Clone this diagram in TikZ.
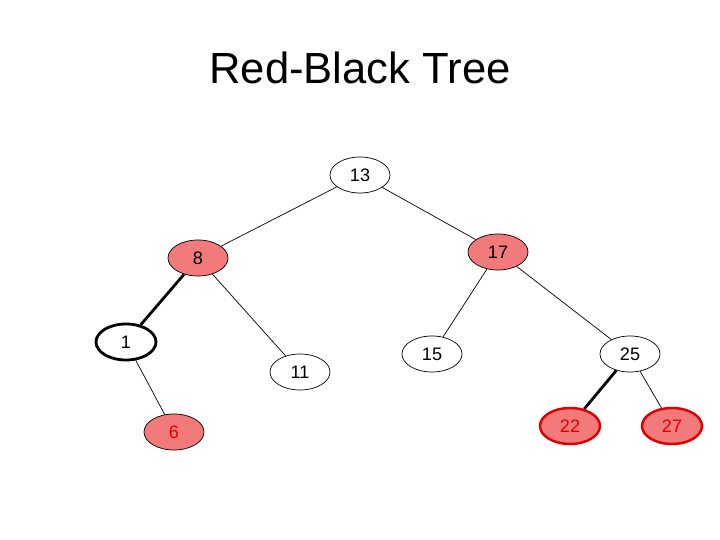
\documentclass[tikz,border=0pt]{standalone}
\usepackage{fontspec}
\setmainfont{Liberation Sans}
\usetikzlibrary{shapes.geometric, positioning}
\definecolor{rbfill}{RGB}{242,122,122} % fill of the red nodes
\definecolor{rbtext}{RGB}{225,0,0} % text of the red nodes
\tikzset{
    on grid, % measure node distances centre to centre
    every node/.style={font=\fontsize{10.3}{12}\selectfont},
    key/.style={ellipse, draw, thin, fill=white, minimum width=1.2cm, minimum height=0.72cm, inner sep=0pt}, % sets the properties for each tree node
    rednode/.style={key, fill=rbfill}, % red node, black text
    redleaf/.style={key, fill=rbfill, text=rbtext}, % red node, red text
    hotnode/.style={key, fill=rbfill, text=rbtext, draw=rbtext, line width=1.4pt}, % red node, red border
    fixnode/.style={key, line width=1.6pt}, % black node with heavy border
    link/.style={draw, line width=0.4pt},
    hotlink/.style={draw, line width=1.6pt},
}

\begin{document}
\begin{tikzpicture}
        \useasboundingbox (0,0) rectangle (14.4,-10.8);
        \node[font=\fontsize{24.8}{30}\selectfont] (title) at (7.2,-1.36) {Red-Black Tree};

        % States definitions here
        \node[key] (K13) at (7.2,-3.5) {13};
        \node[rednode, below left=1.66cm and 3.24cm of K13] (K8) {8};
        \node[rednode, below right=1.54cm and 2.76cm of K13] (K17) {17};
        \node[fixnode, below left=1.68cm and 1.44cm of K8] (K1) {1};
        \node[key, below right=2.28cm and 2.04cm of K8] (K11) {11};
        \node[redleaf, below right=1.8cm and 0.96cm of K1] (K6) {6};
        \node[key, below left=2.04cm and 1.32cm of K17] (K15) {15};
        \node[key, below right=2.04cm and 2.64cm of K17] (K25) {25};
        \node[hotnode, below left=1.44cm and 1.2cm of K25] (K22) {22};
        \node[hotnode, below right=1.44cm and 0.84cm of K25] (K27) {27};

        % draw Edges
        \draw   (K13) edge[link] (K8)
                      edge[link] (K17)

                (K8)  edge[hotlink] (K1)
                      edge[link] (K11)

                (K1)  edge[link] (K6)

                (K17) edge[link] (K15)
                      edge[link] (K25)

                (K25) edge[hotlink] (K22)
                      edge[link] (K27)
                      ;
    \end{tikzpicture}
\end{document}
